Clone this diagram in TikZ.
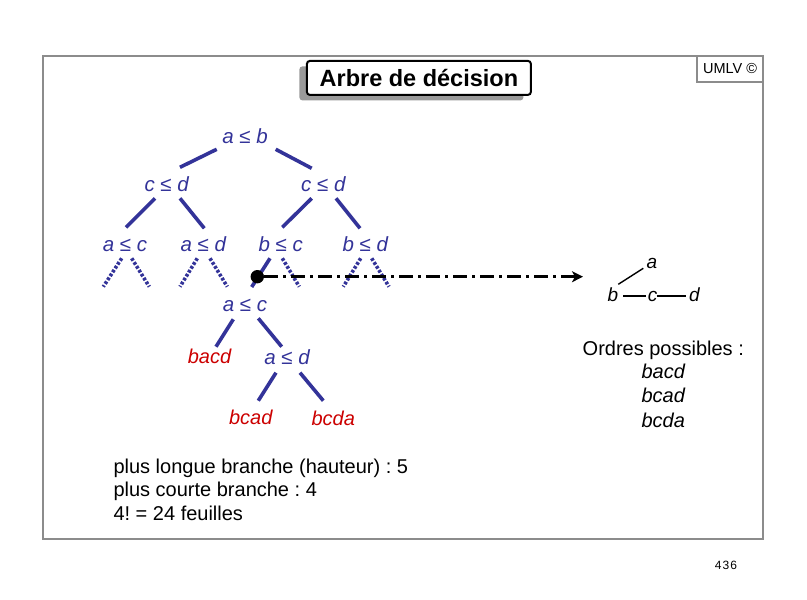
\documentclass[tikz,border=0pt]{standalone}
\usepackage{fontspec}
\setmainfont{Liberation Sans}
\usetikzlibrary{calc,arrows.meta,shadows}
\definecolor{treeblue}{HTML}{333399}
\definecolor{leafred}{HTML}{CC0000}
\definecolor{framegray}{HTML}{8C8C8C}
\definecolor{shadowgray}{HTML}{9A9A9A}
\frenchspacing
\begin{document}
\frenchspacing
\begin{tikzpicture}[x=1pt,y=-1pt,
  test/.style={anchor=base, font=\fontsize{20.5}{24}\selectfont\itshape, text=treeblue, inner sep=0pt},
  leaf/.style={anchor=base, font=\fontsize{20}{24}\selectfont\itshape, text=leafred, inner sep=0pt},
  edge/.style={draw=treeblue, line width=3.6pt},
  dotedge/.style={draw=treeblue, line width=3.6pt, dash pattern=on 2.8pt off 1.8pt},
  plain/.style={anchor=base, font=\fontsize{20}{24}\selectfont, inner sep=0pt},
  plainit/.style={anchor=base, font=\fontsize{20}{24}\selectfont\itshape, inner sep=0pt},
  small/.style={anchor=base, font=\fontsize{19}{22}\selectfont\itshape, inner sep=0pt},
  thinline/.style={draw=black, line width=1.4pt},
  dashdot/.style={draw=black, line width=3pt, dash pattern=on 14pt off 5pt on 3pt off 5pt,
    -{Stealth[length=11pt,width=11pt,inset=3pt]}},
]
\useasboundingbox (0,0) rectangle (807,600);
\fill[white] (0,0) rectangle (807,600);

% frame
\draw[framegray, line width=2pt] (43.3,55.7) rectangle (763.3,539.3);
\node[draw=framegray, line width=1.6pt, minimum width=66pt, minimum height=26pt,
  inner sep=0pt, font=\fontsize{14.5}{16}\selectfont, text height=10.5pt, text depth=0pt]
  (umlv) at (730,68.7) {UMLV ©};

% title
\node[draw=black, line width=2pt, rounded corners=3pt, fill=white,
  minimum width=224pt, minimum height=34pt, inner sep=0pt,
  font=\fontsize{23.5}{28}\selectfont\bfseries, text height=17pt, text depth=0pt,
  drop shadow={shadow xshift=-7.5pt, shadow yshift=-5.5pt, fill=shadowgray, opacity=1}]
  (title) at (418.9,77.9) {Arbre de décision};

% tree nodes
\node[test] (ab) at (245,143.3) {a ≤ b};
\node[test] (cdL) at (166.7,191) {c ≤ d};
\node[test] (cdR) at (323.3,191) {c ≤ d};
\node[test] (ac) at (125,251) {a ≤ c};
\node[test] (ad) at (203.3,251) {a ≤ d};
\node[test] (bc) at (280.7,251) {b ≤ c};
\node[test] (bd) at (365.3,251) {b ≤ d};
\node[test] (ac2) at (245,311) {a ≤ c};
\node[leaf] (bacd) at (209.5,363.3) {bacd};
\node[test] (ad2) at (287,364) {a ≤ d};
\node[leaf] (bcad) at (250.8,424) {bcad};
\node[leaf] (bcda) at (333.3,425) {bcda};

% solid edges
\draw[edge] ($(ab.base)+(-28.3,6)$) -- ($(cdL.base)+(13.3,-23.7)$);
\draw[edge] ($(ab.base)+(30.7,6)$) -- ($(cdR.base)+(-11.6,-22.7)$);
\draw[edge] ($(cdL.base)+(-11.7,7.3)$) -- ($(ac.base)+(1,-23.7)$);
\draw[edge] ($(cdL.base)+(13.3,7.3)$) -- ($(ad.base)+(1,-22.7)$);
\draw[edge] ($(cdR.base)+(-11.6,7.3)$) -- ($(bc.base)+(1.6,-23.7)$);
\draw[edge] ($(cdR.base)+(12.7,7.3)$) -- ($(bd.base)+(-5.3,-22.7)$);
\draw[edge] ($(bc.base)+(-10.7,7.3)$) -- ($(ac2.base)+(6.7,-24)$);
\draw[edge] ($(ac2.base)+(-11.7,8.3)$) -- ($(bacd.base)+(6.5,-16.6)$);
\draw[edge] ($(ac2.base)+(13.3,7.3)$) -- ($(ad2.base)+(-5.3,-17.3)$);
\draw[edge] ($(ad2.base)+(-11,8.7)$) -- ($(bcad.base)+(7.5,-23.3)$);
\draw[edge] ($(ad2.base)+(13,8.7)$) -- ($(bcda.base)+(-10,-24.3)$);

% dotted (unexplored) branches
\draw[dotedge] ($(ac.base)+(-3.3,7.3)$) -- ++(-18.4,28.4);
\draw[dotedge] ($(ac.base)+(6.7,7.3)$) -- ++(17.6,28.4);
\draw[dotedge] ($(ad.base)+(-6,7.3)$) -- ++(-17.3,28.4);
\draw[dotedge] ($(ad.base)+(6.7,7.3)$) -- ++(17.3,28.4);
\draw[dotedge] ($(bc.base)+(1.6,7.3)$) -- ++(17,28.4);
\draw[dotedge] ($(bd.base)+(-4.6,7.3)$) -- ++(-17.4,28.4);
\draw[dotedge] ($(bd.base)+(6.4,7.3)$) -- ++(17.3,28.4);

% bullet and dash-dot arrow
\node[circle, fill=black, minimum size=13.4pt, inner sep=0pt] (dot) at (257.3,276.7) {};
\coordinate (arrowend) at (583,276.7);
\draw[dashdot] (dot) -- (arrowend);

% partial order graph
\node[small] (ra) at (652,268.3) {a};
\node[small] (rb) at (612.8,301) {b};
\node[small] (rc) at (652.7,301) {c};
\node[small] (rd) at (694.3,301) {d};
\draw[thinline] ($(rb.base)+(5.5,-16.7)$) -- ($(ra.base)+(-8.7,0)$);
\draw[thinline] ($(rb.base)+(10.5,-5)$) -- ($(rc.base)+(-6.7,-5)$);
\draw[thinline] ($(rc.base)+(4,-5)$) -- ($(rd.base)+(-8.3,-5)$);

% possible orders
\node[plain] (ordres) at (663.3,355) {Ordres possibles :};
\node[plainit] (o1) at (663.3,378.3) {bacd};
\node[plainit] (o2) at (663.3,402.7) {bcad};
\node[plainit] (o3) at (663.3,427.7) {bcda};

% bottom text
\node[plain, anchor=base west] (t1) at (113.3,473.3) {plus longue branche (hauteur) : 5};
\node[plain, anchor=base west] (t2) at (113.3,496.7) {plus courte branche : 4};
\node[plain, anchor=base west] (t3) at (113.3,520.7) {4! = 24 feuilles};

% page number
\node[anchor=base, inner sep=0pt, font=\fontsize{12}{14}\selectfont] (page) at (726,569.3) {4\kern1pt3\kern1pt6};
\end{tikzpicture}
\end{document}
